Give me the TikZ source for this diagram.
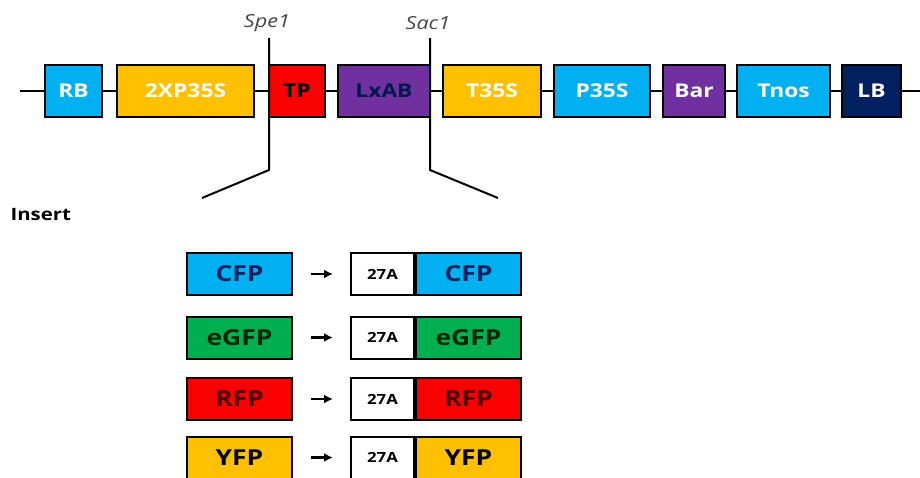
\documentclass[tikz,border=0pt]{standalone}
\usepackage{fontspec}
\setmainfont{Open Sans}[FakeStretch=1.2]
\usepackage{xcolor}
\usetikzlibrary{arrows.meta}

\definecolor{cyanbox}{RGB}{0,176,240}
\definecolor{yellowbox}{RGB}{255,192,0}
\definecolor{redbox}{RGB}{250,0,0}
\definecolor{purplebox}{RGB}{112,48,160}
\definecolor{navybox}{RGB}{0,32,96}
\definecolor{greenbox}{RGB}{0,176,80}
\definecolor{sitegray}{RGB}{70,70,70}

\tikzset{
	part/.style={draw, line width=2pt, minimum height=52, inner sep=0pt,
		font=\bfseries\fontsize{19}{19}\selectfont, text=white},
	ins/.style={draw, line width=2pt, minimum height=42, minimum width=105,
		inner sep=0pt, font=\bfseries\fontsize{22}{22}\selectfont},
	tagbox/.style={ins, fill=white, minimum width=63,
		font=\bfseries\fontsize{14}{14}\selectfont},
	cut/.style={line width=2pt},
	site/.style={font=\itshape\fontsize{18}{18}\selectfont, text=sitegray},
}

\begin{document}
\begin{tikzpicture}[x=1pt,y=-1pt]
	\useasboundingbox (0,0) rectangle (920,477);
	%
	\node[part,fill=cyanbox,minimum width=57] (rb) at (73.5,91) {RB};
	\node[part,fill=yellowbox,minimum width=137] (p2x) at (185.5,91) {2XP35S};
	\node[part,fill=redbox,minimum width=56,text=black] (tp) at (297,91) {TP};
	\node[part,fill=purplebox,minimum width=92,text=navybox!80!black] (lxab) at (384,91) {LxAB};
	\node[part,fill=yellowbox,minimum width=98] (t35s) at (492,91) {T35S};
	\node[part,fill=cyanbox,minimum width=96] (p35s) at (602,91) {P35S};
	\node[part,fill=purplebox,minimum width=62] (bar) at (694,91) {Bar};
	\node[part,fill=cyanbox,minimum width=93] (tnos) at (783.5,91) {Tnos};
	\node[part,fill=navybox,minimum width=59] (lb) at (871.5,91) {LB};
	%
	\coordinate (lend) at (20,91);
	\coordinate (rend) at (920,91);
	\draw[cut] (lend) -- (rb.west);
	\foreach \a/\b in {rb/p2x,p2x/tp,tp/lxab,lxab/t35s,t35s/p35s,p35s/bar,bar/tnos,tnos/lb}
		\draw[cut] (\a.east) -- (\b.west);
	\draw[cut] (lb.east) -- (rend);
	%
	\node[site] (spe) at (267,23) {Spe1};
	\node[site] (sac) at (428,23) {Sac1};
	\coordinate (spetop) at (269,38);
	\coordinate (spekink) at (269,170);
	\coordinate (speend) at (202,198);
	\coordinate (sactop) at (430,38);
	\coordinate (sackink) at (430,170);
	\coordinate (sacend) at (498,198);
	\draw[cut] (spetop) -- (spekink) -- (speend);
	\draw[cut] (sactop) -- (sackink) -- (sacend);
	%
	\node[font=\bfseries\fontsize{17}{17}\selectfont,anchor=west] (insert) at (7,215) {Insert};
	%
	\foreach \name/\col/\txt/\y [count=\i] in
		{CFP/cyanbox/navybox/274, eGFP/greenbox/black!85!green/337.5,
		 RFP/redbox/black!70!red/399, YFP/yellowbox/black/457.5}
	{
		\node[ins,fill=\col,text=\txt] (src\i) at (239.5,\y) {\name};
		\node[tagbox,anchor=west] (tag\i) at (350,\y) {27A};
		\node[ins,fill=\col,text=\txt,anchor=west] (dst\i) at (tag\i.east) {\name};
		\draw[line width=2.5pt,-{Latex[length=9pt,width=9pt]},shorten <=18pt,shorten >=17pt]
			(src\i.east) -- (tag\i.west);
	}
\end{tikzpicture}
\end{document}
